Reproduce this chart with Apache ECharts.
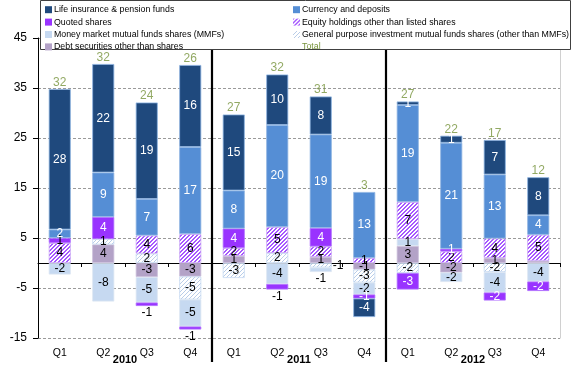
<!DOCTYPE html>
<html><head><meta charset="utf-8">
<script src="https://cdn.jsdelivr.net/npm/echarts@6/dist/echarts.min.js"></script>
<style>html,body{margin:0;padding:0;background:#fff}#c{width:572px;height:371px}</style>
</head><body><div id="c"></div>
<script>
// ---- data ----
const quarters = ['Q1','Q2','Q3','Q4','Q1','Q2','Q3','Q4','Q1','Q2','Q3','Q4'];
const years = ['2010','2011','2012'];
const yMin = -15, yMax = 45, yStep = 10;
const life     = [28.1, 21.7, 19.3, 16.4, 15.2, 10.1,  7.6, -3.7,  0.7,  1.4,  6.9,  7.6];
const currency = [ 1.7,  8.9,  7.3, 17.4,  7.6, 20.4, 18.7, 13.2, 19.4, 21.2, 12.8,  3.9];
const quoted   = [ 1.0,  4.4, -0.7, -0.6,  3.9, -1.1,  3.7, -0.8, -3.3, 0.55, -1.6, -1.9];
const equity   = [ 4.0,  0,    3.6,  5.8,  1.6,  5.2,  2.1,  1.0,  7.4,  2.3,  3.9,  5.2];
const mmf      = [-2.3, -7.7, -5.1, -5.4,  0,   -4.2, -0.9, -2.4,  1.4, -1.9, -4.1, -3.7];
const gp       = [ 0,    1.1,  1.9, -4.6, -3.0,  2.0, -0.9, -2.6, -2.0,  0,   -1.8,  0];
const debt     = [ 0,    3.7, -2.8, -2.7,  1.4,  0,    1.2, -1.3,  3.4, -1.9,  1.0,  0.45];
const totals   = [32, 32, 24, 26, 27, 32, 31, 3, 27, 22, 17, 12];
const yearEnds = [3, 7];

// ---- styles ----
const FONT = '"Liberation Sans", Arial, sans-serif';
function hatch(fg, bg, size, thick) {
  const c = document.createElement('canvas'); c.width = c.height = size;
  const g = c.getContext('2d'); g.fillStyle = bg; g.fillRect(0, 0, size, size);
  g.fillStyle = fg;
  for (let i = 0; i < size; i++) for (let t = 0; t < thick; t++) g.fillRect((i + t) % size, size - 1 - i, 1, 1);
  return c;
}
const equityFill = {image: hatch('#a659ff', '#ffffff', 4, 2), repeat: 'repeat'};
const gpFill = {image: hatch('#b9cde8', '#ffffff', 4, 1), repeat: 'repeat'};

const defs = [
  {name: 'Debt securities other than shares', data: debt, color: '#b3a2c7', border: '#c9bdd9', text: '#000'},
  {name: 'General purpose investment mutual funds shares (other than MMFs)', data: gp, color: gpFill, border: '#c6d9f1', text: '#000'},
  {name: 'Money market mutual funds shares (MMFs)', data: mmf, color: '#c6d9f1', border: '#dce6f2', text: '#000'},
  {name: 'Equity holdings other than listed shares', data: equity, color: equityFill, border: '#c9a6f5', text: '#000'},
  {name: 'Quoted shares', data: quoted, color: '#9933ff', border: '#b070ff', text: '#fff'},
  {name: 'Currency and deposits', data: currency, color: '#558ed5', border: '#8db4e2', text: '#fff'},
  {name: 'Life insurance & pension funds', data: life, color: '#1f497d', border: '#8db4e2', text: '#fff'}
];
const labelOverrides = {
  'Quoted shares': {0: {color: '#000'}, 2: {position: 'outside'}, 3: {position: 'outside'}, 5: {position: 'outside'}},
  'General purpose investment mutual funds shares (other than MMFs)': {6: {position: 'right'}},
  'Money market mutual funds shares (MMFs)': {6: {position: 'outside'}}
};

const posTop = quarters.map((q, i) => defs.reduce((s, d) => s + (d.data[i] > 0 ? d.data[i] : 0), 0));

const barSeries = defs.map(d => ({
  name: d.name, type: 'bar', stack: 'all', barWidth: 22,
  xAxisIndex: 0, yAxisIndex: 0,
  itemStyle: {color: d.color, borderColor: d.border, borderWidth: 0.8},
  label: {
    show: true, position: 'inside', color: d.text, fontFamily: FONT, fontSize: 12,
    formatter: p => { const r = Math.round(p.value); return r === 0 ? '' : String(r); }
  },
  data: d.data.map((v, i) => {
    const val = v === 0 ? null : v;
    const ov = (labelOverrides[d.name] || {})[i];
    if (ov) return {value: val, label: Object.assign({color: '#000', distance: 1}, ov)};
    return val;
  })
}));

const chart = echarts.init(document.getElementById('c'), null, {renderer: 'canvas'});
const legendCommon = {
  orient: 'vertical', top: -1.5, itemWidth: 7, itemHeight: 7, itemGap: 0, z: 101,
  icon: 'rect', selectedMode: false, itemStyle: {borderWidth: 0},
  textStyle: {fontFamily: FONT, fontSize: 8.8, color: '#000', lineHeight: 12.4, padding: [0, 0, 0, -3]}
};
chart.setOption({
  animation: false,
  backgroundColor: '#fff',
  textStyle: {fontFamily: FONT},
  grid: {left: 38, right: 12, top: 38, bottom: 33, containLabel: false, outerBoundsMode: 'none'},
  legend: [
    Object.assign({}, legendCommon, {left: 40, data: [
      'Life insurance & pension funds', 'Quoted shares',
      'Money market mutual funds shares (MMFs)', 'Debt securities other than shares']}),
    Object.assign({}, legendCommon, {left: 288, data: [
      'Currency and deposits', 'Equity holdings other than listed shares',
      'General purpose investment mutual funds shares (other than MMFs)',
      {name: 'Total', itemStyle: {opacity: 0}, textStyle: {color: '#77933c'}}]})
  ],
  graphic: [{type: 'rect', z: 100, shape: {x: 40.5, y: 0.5, width: 530, height: 49},
    style: {fill: '#fff', stroke: '#404040', lineWidth: 1}}],
  xAxis: [
    {type: 'category', data: quarters, position: 'bottom', gridIndex: 0,
     axisLine: {show: true, onZero: true, lineStyle: {color: '#000', width: 1}},
     axisTick: {show: true, length: 4, inside: false, lineStyle: {color: '#000'}},
     axisLabel: {show: false}, splitLine: {show: false}},
    {type: 'category', data: quarters, position: 'bottom', gridIndex: 0,
     axisLine: {show: false, onZero: false}, axisTick: {show: false},
     axisLabel: {show: true, interval: 0, margin: 10, fontSize: 10.5, color: '#000', fontFamily: FONT}},
    {type: 'category', data: years, position: 'bottom', gridIndex: 0,
     axisLine: {show: false, onZero: false}, axisTick: {show: false},
     axisLabel: {show: true, interval: 0, margin: 16, fontSize: 11, fontWeight: 'bold', color: '#000', fontFamily: FONT}}
  ],
  yAxis: [
    {type: 'value', min: yMin, max: yMax, interval: yStep, position: 'left',
     axisLine: {show: true, lineStyle: {color: '#000'}},
     axisTick: {show: true, length: 5, inside: false, lineStyle: {color: '#000'}},
     axisLabel: {margin: 11, fontSize: 12, color: '#000', fontFamily: FONT},
     splitLine: {show: true, lineStyle: {color: '#9a9a9a', type: [3, 2], width: 1}}},
    {type: 'value', min: yMin, max: yMax, interval: yStep, position: 'right',
     axisLine: {show: true, lineStyle: {color: '#d0d0d0'}}, axisTick: {show: false},
     axisLabel: {show: false}, splitLine: {show: false}}
  ],
  series: barSeries.concat([
    {name: 'Total', type: 'scatter', xAxisIndex: 0, yAxisIndex: 0,
     symbolSize: 1, itemStyle: {color: 'rgba(0,0,0,0)'},
     label: {show: true, position: 'top', distance: 0, color: '#77933c', fontSize: 12, fontFamily: FONT,
       formatter: p => String(totals[p.dataIndex])},
     data: posTop.map((v, i) => [i, v])},
    {name: 'sep', type: 'custom', xAxisIndex: 0, yAxisIndex: 0, z: 5, silent: true,
     encode: {x: 0, y: 1},
     data: yearEnds.map(i => [i, 0]),
     renderItem: (params, api) => {
       const i = api.value(0);
       const half = api.size([1, 0])[0] / 2;
       const t = api.coord([i, yMax]);
       const b = api.coord([i, yMin]);
       const x = Math.round(t[0] + half);
       return {type: 'line', shape: {x1: x, y1: t[1], x2: x, y2: b[1] + 24},
               style: {stroke: '#000', lineWidth: 2.2}};
     }}
  ])
});
</script></body></html>
